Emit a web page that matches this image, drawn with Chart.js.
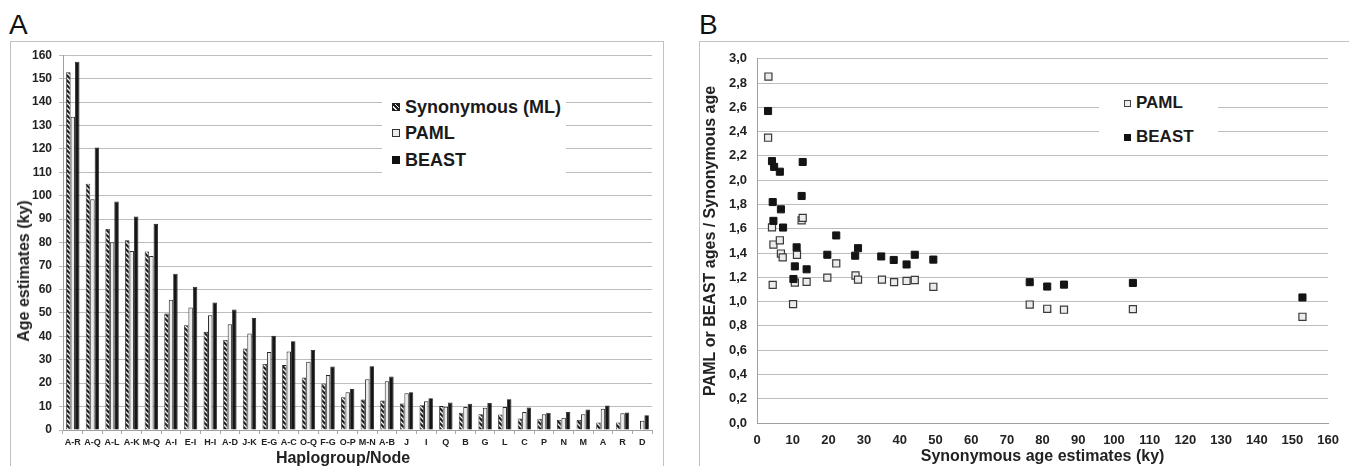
<!DOCTYPE html>
<html>
<head>
<meta charset="utf-8">
<script src="https://cdn.jsdelivr.net/npm/chart.js@4.4.1/dist/chart.umd.min.js"></script>
<style>
  body { margin: 0; width: 1349px; height: 466px; overflow: hidden; background: #fff;
         position: relative; font-family: "Liberation Sans", Arial, sans-serif; color: #1a1a1a; }
  .frame { position: absolute; border: 1px solid #c2c2c2; box-sizing: border-box; }
  .panel-label { position: absolute; font-size: 28px; line-height: 28px; color: #111; }
  .box { position: absolute; }
  .axis-title { position: absolute; font-weight: bold; font-size: 16px; white-space: nowrap;
                transform: translate(-50%, -50%); color: #222; }
  .legend { position: absolute; background: #fff; }
  .item { position: absolute; left: 0; height: 22px; display: flex; align-items: center;
          font-weight: bold; white-space: nowrap; color: #1a1a1a; }
  .swatch { display: inline-block; box-sizing: border-box; margin-right: 5px; }
</style>
</head>
<body>
  <div class="panel-label" style="left:9px; top:11px;">A</div>
  <div class="panel-label" style="left:699px; top:11px;">B</div>

  <div class="frame" style="left:10px; top:41px; width:654px; height:440px;"></div>
  <div class="frame" style="left:699px; top:41px; width:660px; height:440px;"></div>

  <div class="box" style="left:10px; top:41px;"><canvas id="chartA" width="654" height="425"></canvas></div>
  <div class="box" style="left:699px; top:41px;"><canvas id="chartB" width="650" height="425"></canvas></div>

  <!-- titres du panneau A (décalés comme dans la figure d'origine) -->
  <div class="axis-title" style="left:24px; top:271px; transform: translate(-50%,-50%) rotate(-90deg);">Age estimates (ky)</div>
  <div class="axis-title" style="left:343px; top:458px;">Haplogroup/Node</div>

  <div class="legend" style="left:382px; top:82px; width:184px; height:96px; font-size:18px;">
    <div class="item" style="left:10px; top:14px;"><span class="swatch" id="swML" style="width:8px;height:8px;border:1px solid #222;"></span>Synonymous (ML)</div>
    <div class="item" style="left:10px; top:40px;"><span class="swatch" style="width:8px;height:8px;border:1px solid #333;background:#ececec;"></span>PAML</div>
    <div class="item" style="left:10px; top:67px;"><span class="swatch" style="width:8px;height:8px;background:#111;"></span>BEAST</div>
  </div>

  <div class="legend" style="left:1099px; top:84px; width:119px; height:68px; font-size:17px;">
    <div class="item" style="left:25px; top:8px;"><span class="swatch" style="width:7px;height:7px;border:1px solid #444;background:#ececec;"></span>PAML</div>
    <div class="item" style="left:25px; top:42px;"><span class="swatch" style="width:7px;height:7px;background:#111;"></span>BEAST</div>
  </div>

<script>
// --- Panel A : âges par haplogroupe ---
const nodes = ['A-R','A-Q','A-L','A-K','M-Q','A-I','E-I','H-I','A-D','J-K','E-G','A-C','O-Q','F-G',
               'O-P','M-N','A-B','J','I','Q','B','G','L','C','P','N','M','A','R','D'];
const synML = [152.7,105.1,85.8,81.0,76.2,49.7,44.7,41.9,38.4,34.8,28.2,27.7,22.4,19.8,
               14.0,13.0,12.6,11.3,10.6,10.2,7.4,6.7,6.6,4.9,4.8,4.3,4.3,3.2,3.2,null];
const paml  = [133.7,98.5,80.1,76.4,74.3,55.6,52.3,49.0,45.1,41.2,33.3,33.5,29.1,23.5,
               16.1,21.7,20.8,15.7,12.3,9.9,9.8,9.5,9.8,7.7,6.7,5.2,6.7,9.1,7.1,3.9];
const beast = [157.2,120.6,97.5,91.1,88.0,66.7,61.2,54.4,51.4,47.8,40.2,37.9,34.2,27.1,
               17.5,27.2,22.8,16.1,13.6,11.7,11.2,11.5,13.1,9.6,7.4,7.7,8.8,10.5,7.5,6.3];
const ageTicks = [0,10,20,30,40,50,60,70,80,90,100,110,120,130,140,150,160];

// --- Panel B : rapport PAML/BEAST sur l'âge synonyme ---
const pamlX     = [3.2,3.1,4.2,4.6,6.4,6.7,7.2,4.4,12.5,12.8,11.2,10.6,13.9,10.1,19.7,22.2,
                   27.6,28.3,35.0,38.4,41.9,44.2,49.4,76.4,81.3,86.0,105.3,152.8];
const pamlRatio = [2.854,2.35,1.612,1.47,1.505,1.396,1.364,1.138,1.67,1.69,1.386,1.157,1.162,0.979,1.197,1.314,
                   1.215,1.181,1.181,1.16,1.17,1.178,1.122,0.976,0.941,0.933,0.938,0.875];
const beastX     = [3.1,4.2,4.8,6.4,12.8,12.5,4.4,6.7,4.6,7.3,22.2,11.1,19.7,27.5,
                    28.3,34.8,38.3,41.9,44.2,49.4,10.6,13.9,10.2,76.4,81.3,86.0,105.3,152.8];
const beastRatio = [2.57,2.157,2.11,2.07,2.15,1.87,1.82,1.76,1.665,1.61,1.545,1.447,1.386,1.378,
                    1.44,1.372,1.343,1.306,1.386,1.346,1.29,1.266,1.186,1.16,1.124,1.14,1.154,1.034];

Chart.defaults.font.family = '"Liberation Sans", Arial, sans-serif';
Chart.defaults.color = '#222';

// motif hachuré pour les barres "Synonymous (ML)"
const makeHatch = () => {
  const c = document.createElement('canvas');
  c.width = 5; c.height = 5;
  const g = c.getContext('2d');
  g.fillStyle = '#1e1e1e';
  g.fillRect(0, 0, 5, 5);
  g.strokeStyle = '#f4f4f4';
  g.lineWidth = 1.3;
  g.beginPath();
  g.moveTo(-1, -1); g.lineTo(6, 6);
  g.moveTo(4, -1); g.lineTo(6, 1);
  g.moveTo(-1, 4); g.lineTo(1, 6);
  g.stroke();
  return g.createPattern(c, 'repeat');
};
const hatch = makeHatch();
document.getElementById('swML').style.background =
  'repeating-linear-gradient(45deg, #1e1e1e 0 2px, #f4f4f4 2px 3px)';

const tickFont = { size: 12, weight: 'bold' };

new Chart(document.getElementById('chartA'), {
  type: 'bar',
  data: {
    labels: nodes,
    datasets: [
      { label: 'Synonymous (ML)', data: synML, backgroundColor: hatch, borderColor: '#1e1e1e', borderWidth: 0.8 },
      { label: 'PAML', data: paml, backgroundColor: '#ececec', borderColor: '#2a2a2a', borderWidth: 1 },
      { label: 'BEAST', data: beast, backgroundColor: '#161616', borderColor: '#161616', borderWidth: 0.8 }
    ]
  },
  options: {
    responsive: false,
    animation: false,
    layout: { padding: { top: 7, right: 12, left: 0, bottom: 0 } },
    plugins: { legend: { display: false }, tooltip: { enabled: false } },
    datasets: { bar: { categoryPercentage: 0.68, barPercentage: 1.0 } },
    scales: {
      x: {
        grid: { display: true, drawOnChartArea: false, drawTicks: true, tickLength: 4, color: '#a8a8a8', offset: true },
        border: { color: '#a0a0a0' },
        ticks: { font: { size: 9, weight: 'bold' }, padding: 3, maxRotation: 0, autoSkip: false },
        afterFit: s => { s.height = 36; }
      },
      y: {
        min: 0, max: 160,
        afterBuildTicks: s => { s.ticks = ageTicks.map(v => ({ value: v })); },
        grid: { color: '#bdbdbd', drawTicks: true, tickLength: 4 },
        border: { color: '#a0a0a0' },
        ticks: { font: tickFont, padding: 7 },
        afterFit: s => { s.width = 53; }
      }
    }
  }
});

new Chart(document.getElementById('chartB'), {
  type: 'scatter',
  data: {
    datasets: [
      { label: 'BEAST', data: beastX.map((x, i) => ({ x, y: beastRatio[i] })),
        pointStyle: 'rect', pointRadius: 5, backgroundColor: '#141414', borderColor: '#141414', borderWidth: 1 },
      { label: 'PAML', data: pamlX.map((x, i) => ({ x, y: pamlRatio[i] })),
        pointStyle: 'rect', pointRadius: 5, backgroundColor: '#ececec', borderColor: '#3a3a3a', borderWidth: 1.2 }
    ]
  },
  options: {
    responsive: false,
    animation: false,
    layout: { padding: { top: 7, right: 12, left: 0, bottom: 0 } },
    plugins: { legend: { display: false }, tooltip: { enabled: false } },
    scales: {
      x: {
        type: 'linear', min: 0, max: 160,
        ticks: { stepSize: 10, font: { size: 13, weight: 'bold' }, padding: 10 },
        grid: { display: false, drawTicks: false },
        border: { color: '#a0a0a0' },
        title: { display: true, text: 'Synonymous age estimates (ky)', font: { size: 16, weight: 'bold' },
                 padding: { top: 0, bottom: 0 } },
        afterFit: s => { s.height = 43; }
      },
      y: {
        min: 0, max: 3,
        ticks: { stepSize: 0.2, font: { size: 13, weight: 'bold' }, padding: 10,
                 callback: v => v.toFixed(1).replace('.', ',') },
        grid: { color: '#bdbdbd', drawTicks: false },
        border: { color: '#a0a0a0' },
        title: { display: true, text: 'PAML or BEAST ages / Synonymous age', font: { size: 16, weight: 'bold' },
                 padding: { top: 2, bottom: 0 } },
        afterFit: s => { s.width = 58; }
      }
    }
  }
});
</script>
</body>
</html>
